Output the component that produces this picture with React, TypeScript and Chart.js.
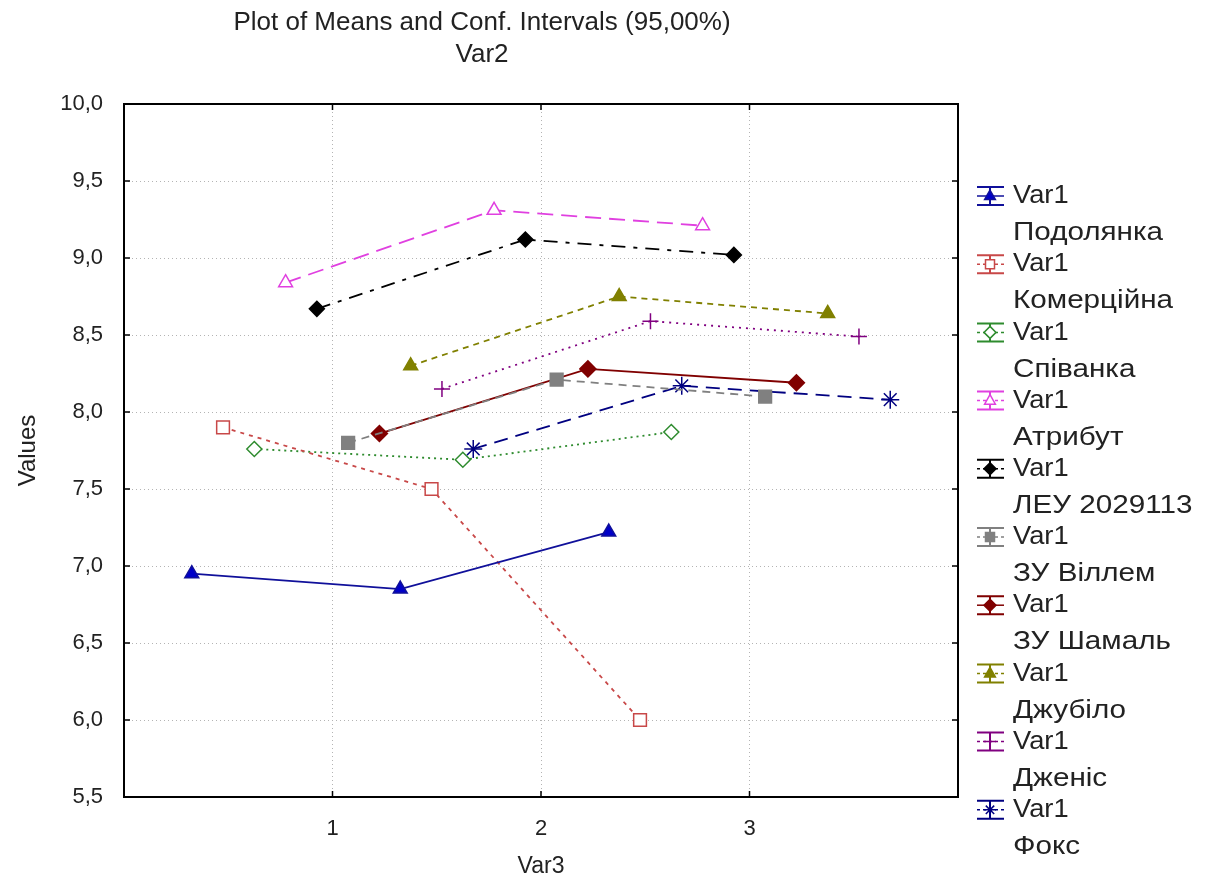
import React, { useEffect, useRef } from "react";
import { Chart, registerables } from "chart.js";

Chart.register(...registerables);

// ---- data ----
const levels = [1, 2, 3];
const xTickLabels = ["1", "2", "3"];
const seriesNames = [
  "Подолянка",
  "Комерційна",
  "Співанка",
  "Атрибут",
  "ЛЕУ 2029113",
  "ЗУ Віллем",
  "ЗУ Шамаль",
  "Джубіло",
  "Дженіс",
  "Фокс",
];
const legendPrefix = "Var1";
const podolyanka = [6.95, 6.85, 7.22];
const komertsiyna = [7.9, 7.5, 6.0];
const spivanka = [7.76, 7.69, 7.87];
const atrybut = [8.84, 9.31, 9.21];
const leu = [8.67, 9.12, 9.02];
const villem = [7.8, 8.21, 8.1];
const shamal = [7.86, 8.28, 8.19];
const dzhubilo = [8.3, 8.75, 8.64];
const dzhenis = [8.15, 8.59, 8.49];
const foks = [7.76, 8.17, 8.08];
const seriesValues = [podolyanka, komertsiyna, spivanka, atrybut, leu, villem, shamal, dzhubilo, dzhenis, foks];
const titleText = "Plot of Means and Conf. Intervals (95,00%)";
const subtitleText = "Var2";
const xTitle = "Var3";
const yTitle = "Values";

// ---- styles ----
const styles = [
  { color: "#10109a", fill: "#0000c8", shape: "triangle", dash: [] as number[], r: 8 },
  { color: "#c84848", fill: "#ffffff", shape: "rect", dash: [4, 5], r: 9 },
  { color: "#2e8b2e", fill: "#ffffff", shape: "rectRot", dash: [2, 4], r: 7.5 },
  { color: "#e040e0", fill: "#ffffff", shape: "triangle", dash: [16, 8], r: 8 },
  { color: "#000000", fill: "#000000", shape: "rectRot", dash: [14, 8, 4, 8], r: 7.5 },
  { color: "#808080", fill: "#808080", shape: "rect", dash: [8, 6], r: 9 },
  { color: "#800000", fill: "#800000", shape: "rectRot", dash: [] as number[], r: 8 },
  { color: "#808000", fill: "#808000", shape: "triangle", dash: [6, 5], r: 8 },
  { color: "#800080", fill: "#800080", shape: "cross", dash: [2, 5], r: 8 },
  { color: "#000080", fill: "#000080", shape: "star", dash: [14, 8], r: 9 },
];
const dodgeStart = -0.675;
const dodgeStep = 0.15;
const FONT = "'Liberation Sans', Arial, sans-serif";

function drawMarker(ctx: CanvasRenderingContext2D, shape: string, x: number, y: number, r: number, stroke: string, fill: string) {
  ctx.save();
  ctx.beginPath();
  ctx.lineWidth = 1.5;
  ctx.strokeStyle = stroke;
  ctx.fillStyle = fill;
  if (shape === "triangle") {
    ctx.moveTo(x, y - r);
    ctx.lineTo(x + r * 0.9, y + r * 0.6);
    ctx.lineTo(x - r * 0.9, y + r * 0.6);
    ctx.closePath();
    ctx.fill();
    ctx.stroke();
  } else if (shape === "rect") {
    ctx.rect(x - r * 0.75, y - r * 0.75, r * 1.5, r * 1.5);
    ctx.fill();
    ctx.stroke();
  } else if (shape === "rectRot") {
    ctx.moveTo(x, y - r);
    ctx.lineTo(x + r, y);
    ctx.lineTo(x, y + r);
    ctx.lineTo(x - r, y);
    ctx.closePath();
    ctx.fill();
    ctx.stroke();
  } else if (shape === "cross") {
    ctx.moveTo(x - r, y);
    ctx.lineTo(x + r, y);
    ctx.moveTo(x, y - r);
    ctx.lineTo(x, y + r);
    ctx.stroke();
  } else if (shape === "star") {
    ctx.moveTo(x - r, y);
    ctx.lineTo(x + r, y);
    ctx.moveTo(x, y - r);
    ctx.lineTo(x, y + r);
    const d = r * 0.7;
    ctx.moveTo(x - d, y - d);
    ctx.lineTo(x + d, y + d);
    ctx.moveTo(x - d, y + d);
    ctx.lineTo(x + d, y - d);
    ctx.stroke();
  }
  ctx.restore();
}

function wideText(ctx: CanvasRenderingContext2D, text: string, x: number, y: number, sx: number) {
  ctx.save();
  ctx.translate(x, y);
  ctx.scale(sx, 1);
  ctx.fillText(text, 0, 0);
  ctx.restore();
}

const decorPlugin = {
  id: "decor",
  afterDraw(chart: any) {
    const { ctx, chartArea: a } = chart;
    const xs = chart.scales.x;
    const ys = chart.scales.y;
    ctx.save();
    // frame
    ctx.strokeStyle = "#000";
    ctx.lineWidth = 2;
    ctx.setLineDash([]);
    ctx.strokeRect(a.left, a.top, a.right - a.left, a.bottom - a.top);
    // inward ticks
    ctx.lineWidth = 1.5;
    ctx.beginPath();
    ys.ticks.forEach((t: any) => {
      const y = ys.getPixelForValue(t.value);
      ctx.moveTo(a.left, y);
      ctx.lineTo(a.left + 6, y);
      ctx.moveTo(a.right - 6, y);
      ctx.lineTo(a.right, y);
    });
    xs.ticks.forEach((t: any) => {
      const x = xs.getPixelForValue(t.value);
      ctx.moveTo(x, a.bottom);
      ctx.lineTo(x, a.bottom - 6);
      ctx.moveTo(x, a.top);
      ctx.lineTo(x, a.top + 6);
    });
    ctx.stroke();

    // titles
    ctx.fillStyle = "#222";
    ctx.textAlign = "center";
    ctx.textBaseline = "middle";
    ctx.font = `26px ${FONT}`;
    const cx = 482;
    ctx.fillText(titleText, cx, 23);
    ctx.fillText(subtitleText, cx, 55);
    ctx.font = `23px ${FONT}`;
    ctx.fillText(xTitle, (a.left + a.right) / 2, 867);
    ctx.save();
    ctx.translate(28, (a.top + a.bottom) / 2);
    ctx.rotate(-Math.PI / 2);
    ctx.font = `24px ${FONT}`;
    ctx.fillText(yTitle, 0, 0);
    ctx.restore();

    // legend
    ctx.textAlign = "left";
    ctx.font = `26px ${FONT}`;
    const pitch = 68.2;
    seriesNames.forEach((name, i) => {
      const st = styles[i];
      const y0 = 196 + i * pitch;
      const x0 = 977, x1 = 1004, xc = 990;
      ctx.strokeStyle = st.color;
      ctx.lineWidth = 2;
      ctx.setLineDash([]);
      ctx.beginPath();
      ctx.moveTo(x0, y0 - 9);
      ctx.lineTo(x1, y0 - 9);
      ctx.moveTo(x0, y0 + 9);
      ctx.lineTo(x1, y0 + 9);
      ctx.moveTo(xc, y0 - 9);
      ctx.lineTo(xc, y0 + 9);
      ctx.stroke();
      ctx.lineWidth = 1.5;
      ctx.setLineDash(st.dash.length ? [3, 3] : []);
      ctx.beginPath();
      ctx.moveTo(x0, y0);
      ctx.lineTo(x1, y0);
      ctx.stroke();
      ctx.setLineDash([]);
      drawMarker(ctx, st.shape, xc, y0, 6, st.color, st.fill);
      ctx.fillStyle = "#222";
      wideText(ctx, legendPrefix, 1013, y0, 1.05);
      wideText(ctx, name, 1013, y0 + 37, 1.14);
    });
    ctx.restore();
  },
};

export default function App() {
  const ref = useRef<HTMLCanvasElement | null>(null);
  useEffect(() => {
    document.body.style.margin = "0";
    const canvas = ref.current!;
    const datasets = seriesValues.map((vals, i) => {
      const st = styles[i];
      return {
        label: `${legendPrefix} ${seriesNames[i]}`,
        data: vals.map((v, k) => ({ x: levels[k] + dodgeStart + i * dodgeStep, y: v })),
        borderColor: st.color,
        backgroundColor: st.fill,
        borderWidth: 1.8,
        borderDash: st.dash,
        pointStyle: st.shape,
        pointRadius: st.r,
        pointBorderColor: st.color,
        pointBackgroundColor: st.fill,
        pointBorderWidth: 1.5,
        showLine: true,
        tension: 0,
      };
    });
    const chart = new Chart(canvas, {
      type: "scatter",
      data: { datasets },
      options: {
        responsive: false,
        animation: false,
        layout: { padding: { top: 104, right: 264, left: 0, bottom: 0 } },
        plugins: { legend: { display: false }, tooltip: { enabled: false }, title: { display: false } },
        scales: {
          x: {
            type: "linear",
            min: 0,
            max: 4,
            afterBuildTicks: (s: any) => {
              s.ticks = levels.map((v) => ({ value: v }));
            },
            afterFit: (s: any) => {
              s.height = 91;
            },
            ticks: {
              padding: 19,
              color: "#222",
              font: { size: 22, family: FONT },
              callback: (v: any) => {
                const idx = levels.indexOf(Number(v));
                return idx >= 0 ? xTickLabels[idx] : "";
              },
            },
            grid: { color: "#b4b4b4", lineWidth: 1, drawTicks: false },
            border: { display: false, dash: [1, 3] },
          },
          y: {
            type: "linear",
            min: 5.5,
            max: 10,
            afterFit: (s: any) => {
              s.width = 124;
            },
            ticks: {
              stepSize: 0.5,
              padding: 21,
              color: "#222",
              font: { size: 22, family: FONT },
              callback: (v: any) => Number(v).toFixed(1).replace(".", ","),
            },
            grid: { color: "#b4b4b4", lineWidth: 1, drawTicks: false },
            border: { display: false, dash: [1, 3] },
          },
        },
      },
      plugins: [decorPlugin],
    });
    return () => chart.destroy();
  }, []);
  return (
    <div style={{ width: 1222, height: 888, background: "#fff" }}>
      <canvas ref={ref} width={1222} height={888} />
    </div>
  );
}
